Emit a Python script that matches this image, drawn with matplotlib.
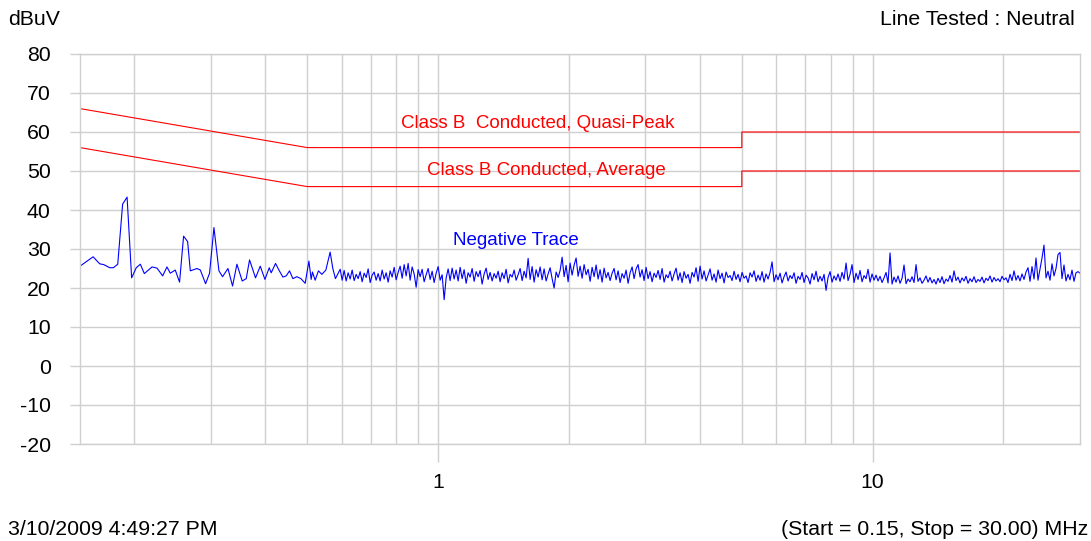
import numpy as np
import matplotlib
matplotlib.use("Agg")
from matplotlib import pyplot as plt

plt.rcParams['font.family'] = ['Liberation Sans', 'DejaVu Sans']
plt.rcParams['axes.unicode_minus'] = False

# limit lines (MHz, dBuV)
limit_freq = [0.15, 0.5, 5.0, 5.0, 30.0]
qp_limit = [66, 56, 56, 60, 60]
avg_limit = [56, 46, 46, 50, 50]

# trace below 0.6 MHz, read point by point
low_freq = [0.150, 0.1608, 0.1665, 0.1701, 0.1756, 0.1790, 0.1832, 0.1880, 0.1925, 0.1972,
            0.2021, 0.2065, 0.2109, 0.2197, 0.2256, 0.2324, 0.2378, 0.2420, 0.2485, 0.2542,
            0.2597, 0.2653, 0.2691, 0.2788, 0.2838, 0.2918, 0.2980, 0.3050, 0.3132, 0.3192,
            0.3285, 0.3366, 0.3445, 0.3543, 0.3619, 0.3683, 0.3802, 0.3898, 0.3996, 0.4088,
            0.4131, 0.4227, 0.4303, 0.4395, 0.4473, 0.4552, 0.4634, 0.4733, 0.4835, 0.4946,
            0.5044, 0.5105, 0.5140, 0.5214, 0.5306, 0.5402, 0.5518, 0.5645, 0.5726, 0.5806]
low_level = [25.6, 28.0, 26.2, 26.0, 25.2, 25.2, 26.1, 41.5, 43.3, 22.6,
             25.2, 26.1, 23.7, 25.4, 25.1, 23.1, 25.4, 23.8, 24.6, 21.5,
             33.3, 31.9, 24.4, 25.0, 24.6, 21.1, 23.8, 35.5, 24.4, 22.9,
             25.0, 20.5, 26.1, 21.8, 22.4, 27.2, 22.6, 25.6, 22.2, 25.2,
             23.9, 26.3, 24.6, 22.8, 23.1, 24.4, 22.4, 22.9, 22.4, 21.2,
             26.9, 22.2, 24.1, 22.0, 24.4, 23.5, 24.6, 29.2, 25.0, 22.4]

# sweep from 0.595 MHz to 30 MHz
sweep_start = 0.5953
sweep_stop = 30.0
sweep_level = [
    24.8, 22.0, 24.5, 21.8, 23.9, 22.3, 24.6, 21.9, 23.5, 22.4,
    24.2, 21.6, 23.8, 22.7, 24.9, 21.4, 23.3, 24.1, 22.0, 23.7,
    21.8, 24.6, 22.3, 23.9, 21.5, 24.4, 22.8, 25.3, 22.1, 24.0,
    25.6, 22.5, 26.0, 23.1, 26.3, 22.0, 25.4, 23.6, 20.2, 24.7,
    22.9, 24.8, 21.6, 23.4, 25.0, 22.2, 24.3, 21.4, 23.8, 25.5,
    22.0, 23.4, 17.0, 22.6, 24.9, 21.9, 25.1, 22.3, 24.6, 21.8,
    25.3, 22.4, 24.7, 21.2, 23.9, 22.8, 25.0, 21.7, 24.2, 22.9,
    24.5, 21.0, 23.6, 25.1, 22.2, 24.0, 21.8, 23.7, 22.5, 24.3,
    21.6, 23.9, 22.4, 24.8, 21.3, 23.5, 22.8, 24.6, 22.0, 23.4,
    25.0, 21.9, 24.3, 22.6, 27.6, 22.2, 25.5, 21.5, 24.7, 22.8,
    25.4, 22.1, 24.9, 21.8, 23.6, 25.2, 22.4, 20.0, 24.1, 22.7,
    24.5, 27.9, 22.9, 25.8, 21.6, 26.4, 23.3, 25.9, 27.7, 23.0,
    25.6, 22.5, 26.0, 23.4, 24.8, 21.7, 25.3, 22.9, 25.9, 22.3,
    24.7, 21.5, 25.1, 22.6, 24.0, 21.9, 23.8, 25.0, 22.1, 24.4,
    21.4, 23.7, 22.5, 24.6, 21.2, 23.9, 25.4, 22.4, 24.9, 26.0,
    22.8, 24.7, 21.9, 25.3, 22.4, 24.2, 21.6, 23.8, 22.7, 24.5,
    22.2, 25.0, 21.5, 23.4, 22.6, 24.3, 21.8, 23.6, 25.1, 22.0,
    23.9, 21.4, 24.2, 22.5, 23.5, 21.2, 24.0, 22.8, 25.2, 21.7,
    25.6, 22.3, 24.4, 21.8, 23.3, 24.9, 22.0, 23.6, 21.5, 24.6,
    22.4, 23.8, 21.3, 24.1, 22.7, 23.2, 21.9, 24.3, 22.2, 23.5,
    21.6, 24.0, 22.5, 23.1, 21.4, 23.9, 22.8, 24.4, 21.7, 23.3,
    22.0, 24.2, 21.5, 23.6, 22.3, 24.0, 26.7, 21.6, 23.4, 22.1,
    23.8, 21.3, 22.9, 24.1, 21.8, 23.2, 22.4, 23.9, 21.2, 23.0,
    22.2, 24.0, 21.4, 23.3, 22.6, 21.0, 23.7, 22.1, 24.3, 21.6,
    23.0, 21.8, 23.5, 19.4, 22.7, 24.2, 21.5, 23.1, 22.0, 23.6,
    21.7, 24.0, 22.3, 26.4, 21.9, 23.5, 26.0, 21.4, 23.8, 22.2,
    24.5, 21.6, 23.2, 22.4, 24.8, 21.5, 23.6, 22.0, 23.3, 21.8,
    23.0, 21.4, 22.6, 24.0, 21.3, 29.0, 21.0, 22.8, 21.5, 23.1,
    21.2, 22.5, 25.9, 21.1, 22.3, 21.6, 22.9, 21.4, 26.0, 21.7,
    22.6, 21.2, 22.0, 23.1, 21.5, 22.7, 21.3, 22.2, 21.0, 22.5,
    21.4, 22.9, 21.1, 22.3, 21.7, 23.2, 21.5, 24.4, 21.9, 22.8,
    21.3, 22.6, 21.8, 23.0, 21.2, 22.4, 21.6, 22.9, 21.4, 22.2,
    21.7, 22.8, 21.3, 22.5, 21.9, 23.1, 21.5, 22.7, 21.8, 22.4,
    21.6, 23.0, 22.1, 22.6, 21.4, 23.5, 21.9, 24.4, 22.0, 23.2,
    21.8, 23.6, 22.2, 24.1, 25.2, 21.7, 25.5, 22.3, 27.7, 22.0,
    24.8, 27.7, 31.0, 22.6, 24.3, 22.0, 26.2, 23.1, 25.0, 28.6,
    29.1, 22.4, 25.9, 21.8, 23.5, 22.1, 24.6, 21.7, 23.9, 24.2,
    23.8]

sweep_freq = np.geomspace(sweep_start, sweep_stop, len(sweep_level))
trace_freq = np.concatenate([low_freq, sweep_freq])
trace_level = np.concatenate([low_level, sweep_level])

grid_col = '#cfcfcf'
fs = 15.3    # axis and page text
fs_lbl = 13.5  # labels on the curves

fig = plt.figure(figsize=(10.91, 5.41), dpi=100)
ax = fig.add_axes([80 / 1091, 97 / 541, 1000 / 1091, 390 / 541])

ax.plot(limit_freq, qp_limit, color='red', lw=0.8)
ax.plot(limit_freq, avg_limit, color='red', lw=0.8)
ax.plot(trace_freq, trace_level, color='blue', lw=0.8)

ax.set_xscale('log')
ax.set_xlim(0.15, 30)
ax.set_ylim(-20, 80)

ax.set_yticks(range(-20, 81, 10))
ax.set_xticks([1, 10])
ax.set_xticklabels(['1', '10'])
minor = [0.2, 0.3, 0.4, 0.5, 0.6, 0.7, 0.8, 0.9, 2, 3, 4, 5, 6, 7, 8, 9, 20]
ax.set_xticks(minor, minor=True)
ax.xaxis.set_minor_formatter(matplotlib.ticker.NullFormatter())

ax.grid(True, which='both', color=grid_col, lw=1.0)
ax.set_axisbelow(True)
for s in ax.spines.values():
    s.set_color(grid_col)
    s.set_linewidth(1.0)

ax.tick_params(axis='y', length=7.2, width=1.0, color=grid_col, pad=14, labelsize=fs)
ax.tick_params(axis='x', which='major', length=13, width=1.0, color=grid_col, pad=8, labelsize=fs)
ax.tick_params(axis='x', which='minor', length=0)

ax.text(0.822, 60.9, 'Class B  Conducted, Quasi-Peak', color='red', fontsize=fs_lbl, ha='left', va='baseline')
ax.text(0.942, 48.9, 'Class B Conducted, Average', color='red', fontsize=fs_lbl, ha='left', va='baseline')
ax.text(1.084, 31.0, 'Negative Trace', color='blue', fontsize=fs_lbl, ha='left', va='baseline')

fig.text(8 / 1091, 1 - 25 / 541, 'dBuV', fontsize=fs, ha='left', va='baseline')
fig.text(1075 / 1091, 1 - 25 / 541, 'Line Tested : Neutral', fontsize=fs, ha='right', va='baseline')
fig.text(8 / 1091, 1 - 535 / 541, '3/10/2009 4:49:27 PM', fontsize=fs, ha='left', va='baseline')
fig.text(1088 / 1091, 1 - 535 / 541, '(Start = 0.15, Stop = 30.00) MHz', fontsize=fs, ha='right', va='baseline')

fig.savefig('out.png', dpi=100)
